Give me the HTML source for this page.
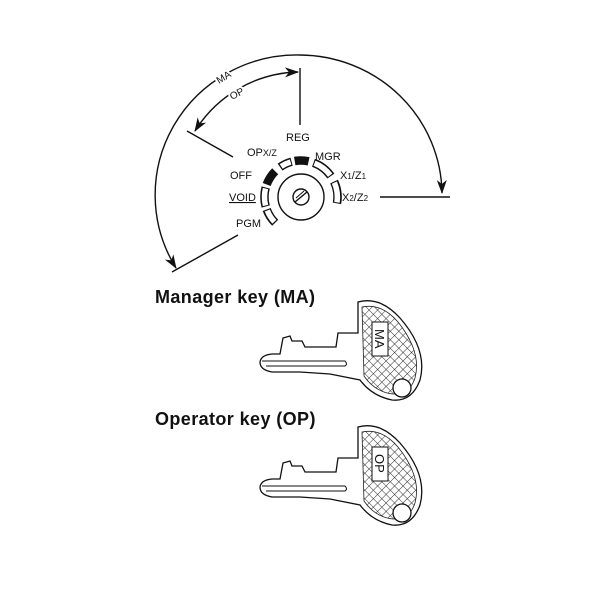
<!DOCTYPE html>
<html><head><meta charset="utf-8"><style>
body{margin:0;background:#fff;}
svg{display:block;font-family:"Liberation Sans",Arial,sans-serif;}
</style></head><body>
<svg width="600" height="600" viewBox="0 0 600 600" xmlns="http://www.w3.org/2000/svg">
<defs>
<pattern id="h" width="6" height="6" patternUnits="userSpaceOnUse" patternTransform="rotate(45)">
<rect width="6" height="6" fill="#fff"/>
<path d="M0 0H6M0 0V6" stroke="#333" stroke-width="1"/>
</pattern>
<marker id="a" markerWidth="14" markerHeight="12" refX="13" refY="6" orient="auto-start-reverse" markerUnits="userSpaceOnUse">
<path d="M0,1 L14,6 L0,11 L4,6Z" fill="#111"/>
</marker>
<g id="key">
<path d="M358,302 Q 380,296 400,318 Q 428,350 420,380 Q 412,402 392,400 Q 372,396 360,380 L 330,374 L 300,372 L 272,372 Q 260,370 260,362 Q 261,355 272,354 L 280,354 L 283,338 L 290,336 L 292,341 L 302,341 L 305,347 L 336,347 L 338,333 L 358,333 Z" fill="#fff" stroke="#111" stroke-width="1.3"/>
<path d="M362,307 Q 382,303 398,322 Q 422,352 415,378 Q 410,394 393,394 Q 375,392 364,376 Z" fill="url(#h)" stroke="#222" stroke-width="0.8"/>
<path d="M262,361 L345,361 Q 348,364 345,366 L 266,366" fill="none" stroke="#111" stroke-width="1"/>
<circle cx="402" cy="388" r="9" fill="#fff" stroke="#111" stroke-width="1.3"/>
<rect x="372" y="322" width="16" height="34" fill="#fff" stroke="#111" stroke-width="1"/>
</g>
</defs>
<g fill="none" stroke="#111" stroke-width="1.4">
<path d="M176,268 A142,140 0 0 1 300,55 A143,140 0 0 1 442,193" marker-start="url(#a)" marker-end="url(#a)"/>
<path d="M195,131 A125,125 0 0 1 298,72" marker-start="url(#a)" marker-end="url(#a)"/>
<line x1="300" y1="68" x2="300" y2="125"/>
<line x1="187" y1="131" x2="233" y2="157"/>
<line x1="172" y1="272" x2="238" y2="235"/>
<line x1="380" y1="197" x2="450" y2="197"/>
<circle cx="301" cy="197" r="23"/>
<circle cx="301" cy="197" r="8"/>
<line x1="295" y1="202" x2="307" y2="192"/>
<line x1="296" y1="198" x2="304" y2="191" stroke-width="1"/>
</g>
<g fill="none" stroke-linecap="butt">
<g stroke="#111" stroke-width="8.5">
<path d="M265.7,206.5 A36.5,36.5 0 0 1 265.7,187.5"/>
<path d="M275.2,222.8 A36.5,36.5 0 0 1 266.7,209.5"/>
<path d="M266.7,184.5 A36.5,36.5 0 0 1 275.2,171.2"/>
<path d="M280.1,167.1 A36.5,36.5 0 0 1 291.6,161.7"/>
<path d="M294.7,161.0 A36.5,36.5 0 0 1 308.6,161.3"/>
<path d="M313.5,162.7 A36.5,36.5 0 0 1 330.9,176.1"/>
<path d="M334.1,181.6 A36.5,36.5 0 0 1 337.0,203.4"/>
</g>
<g stroke="#fff" stroke-width="5.5">
<path d="M265.5,205.5 A36.5,36.5 0 0 1 265.5,188.5"/>
<path d="M274.4,221.8 A36.5,36.5 0 0 1 267.3,210.5"/>
<path d="M281.2,166.4 A36.5,36.5 0 0 1 290.6,162.0"/>
<path d="M314.5,163.2 A36.5,36.5 0 0 1 330.2,175.2"/>
<path d="M334.4,182.6 A36.5,36.5 0 0 1 337.0,202.4"/>
</g>
</g>
<g font-size="11" fill="#111">
<text x="286" y="141">REG</text>
<text x="247" y="156">OP<tspan font-size="9">X/Z</tspan></text>
<text x="315" y="160">MGR</text>
<text x="230" y="179">OFF</text>
<text x="340" y="179">X<tspan font-size="8">1</tspan>/Z<tspan font-size="8">1</tspan></text>
<text x="229" y="201" text-decoration="underline">VOID</text>
<text x="342" y="201">X<tspan font-size="8">2</tspan>/Z<tspan font-size="8">2</tspan></text>
<text x="236" y="227">PGM</text>
<text x="0" y="0" transform="translate(219,84) rotate(-32)" font-size="10" stroke="#fff" stroke-width="4" paint-order="stroke">MA</text>
<text x="0" y="0" transform="translate(232,100) rotate(-28)" font-size="10" stroke="#fff" stroke-width="4" paint-order="stroke">OP</text>
</g>
<g font-size="18" font-weight="bold" fill="#111" letter-spacing="0.4">
<text x="155" y="303">Manager key (MA)</text>
<text x="155" y="425">Operator key (OP)</text>
</g>
<use href="#key"/>
<use href="#key" transform="translate(0,125)"/>
<g font-size="13" fill="#111">
<text transform="translate(375,329) rotate(90)">MA</text>
<text transform="translate(375,454) rotate(90)">OP</text>
</g>
</svg>
</body></html>
